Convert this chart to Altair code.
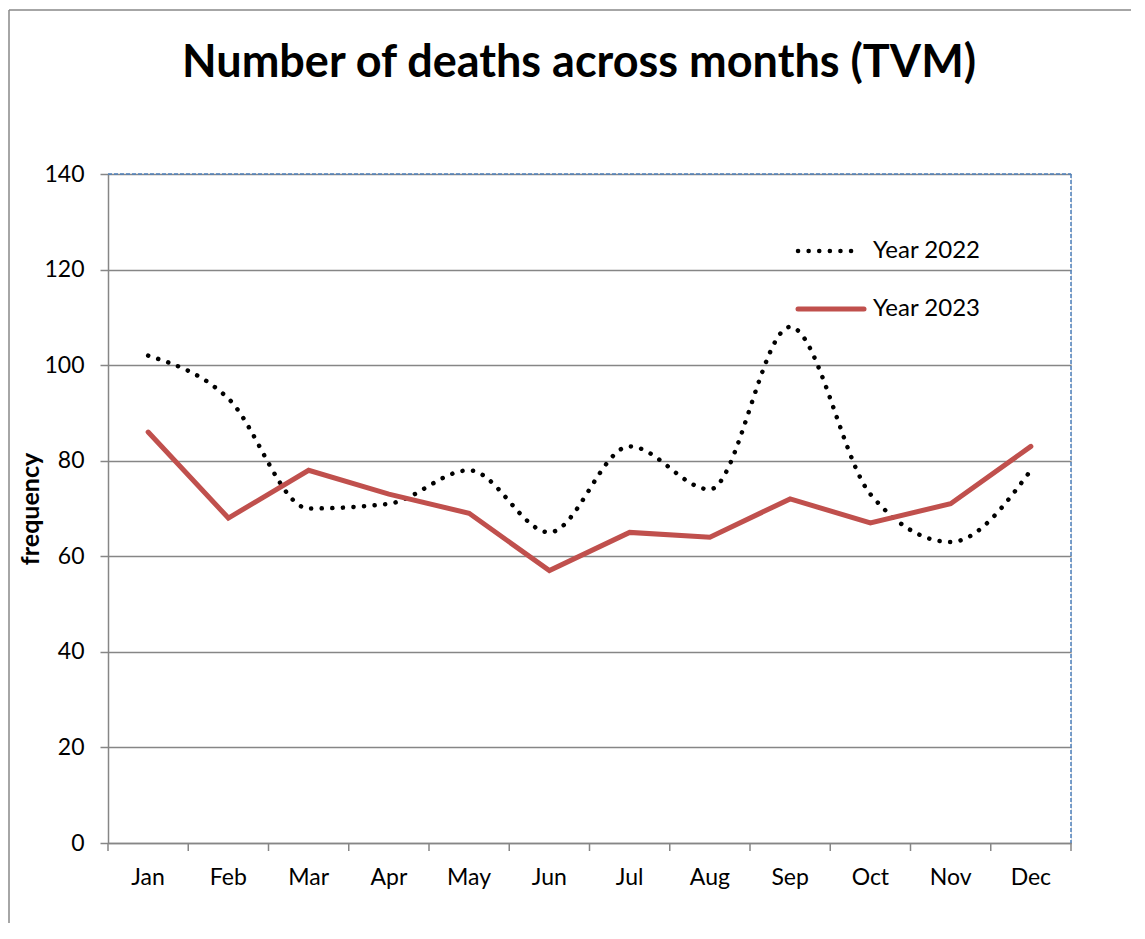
import altair as alt
import pandas as pd

title_text = "Number of deaths across months (TVM)"
months = ["Jan", "Feb", "Mar", "Apr", "May", "Jun", "Jul", "Aug", "Sep", "Oct", "Nov", "Dec"]
y2022 = [102, 93, 70, 71, 78, 65, 83, 74, 108, 73, 63, 78]
y2023 = [86, 68, 78, 73, 69, 57, 65, 64, 72, 67, 71, 83]
series = ["Year 2022", "Year 2023"]
y_ticks = [0, 20, 40, 60, 80, 100, 120, 140]

W, H = 963, 669
FONT = "Lato"
GRAY = "#868686"
RED = "#C0504D"
BLUE = "#4F81BD"

df = pd.DataFrame({"month": months + months,
                   "value": y2022 + y2023,
                   "series": [series[0]] * 12 + [series[1]] * 12})
d22 = df[df.series == series[0]]
d23 = df[df.series == series[1]]
mdf = pd.DataFrame({"month": months})

xscale = alt.Scale(type="band", domain=months, paddingInner=0, paddingOuter=0)
yscale = alt.Scale(domain=[0, 140])

xaxis = alt.Axis(title=None, ticks=False, labelFontSize=23, labelFont=FONT, labelColor="black",
                 labelPadding=23, domainColor=GRAY, domainWidth=1.5, labelAngle=0)
yaxis = alt.Axis(title="frequency", values=y_ticks, grid=True, gridColor=GRAY, gridWidth=1.5,
                 tickColor=GRAY, tickWidth=1.5, tickSize=8, labelFontSize=23, labelFont=FONT,
                 labelColor="black", labelPadding=16, domainColor=GRAY, domainWidth=1.5,
                 titleFont=FONT, titleFontSize=25, titleFontWeight="bold", titleColor="black",
                 titlePadding=0)

line22 = alt.Chart(d22).mark_line(
    color="black", strokeWidth=4.5, strokeDash=[0.1, 10.5], strokeCap="round",
    interpolate="monotone"
).encode(
    x=alt.X("month:N", scale=xscale, axis=xaxis, bandPosition=0.5, sort=months),
    y=alt.Y("value:Q", scale=yscale, axis=yaxis),
)

line23 = alt.Chart(d23).mark_line(
    color=RED, strokeWidth=5, strokeCap="round", strokeJoin="miter"
).encode(
    x=alt.X("month:N", scale=xscale, bandPosition=0.5, sort=months),
    y=alt.Y("value:Q", scale=yscale),
)

ticks = alt.Chart(mdf).mark_rule(color=GRAY, strokeWidth=1.5).encode(
    x=alt.X("month:N", scale=xscale, bandPosition=0, sort=months),
    y=alt.value(H), y2=alt.value(H + 8),
)
last_tick = alt.Chart(mdf.head(1)).mark_rule(color=GRAY, strokeWidth=1.5).encode(
    x=alt.value(W), y=alt.value(H), y2=alt.value(H + 8),
)

# plot-area border (top and right, dashed blue)
top_border = alt.Chart(mdf.head(1)).mark_rule(color=BLUE, strokeWidth=1.5, strokeDash=[4, 2]).encode(
    x=alt.value(0), x2=alt.value(W), y=alt.value(0))
right_border = alt.Chart(mdf.head(1)).mark_rule(color=BLUE, strokeWidth=1.5, strokeDash=[4, 2]).encode(
    x=alt.value(W), y=alt.value(0), y2=alt.value(H))

# legend (drawn inside plot)
leg = pd.DataFrame({"series": series})
leg1 = alt.Chart(leg.head(1)).mark_rule(color="black", strokeWidth=4.5, strokeDash=[0.1, 10.5],
                                         strokeCap="round").encode(
    x=alt.value(690), x2=alt.value(752), y=alt.value(77))
leg2 = alt.Chart(leg.tail(1)).mark_rule(color=RED, strokeWidth=5, strokeCap="round").encode(
    x=alt.value(690), x2=alt.value(756), y=alt.value(135))
legt1 = alt.Chart(leg.head(1)).mark_text(align="left", baseline="middle", font=FONT, fontSize=24,
                                          color="black").encode(
    x=alt.value(765), y=alt.value(77), text="series:N")
legt2 = alt.Chart(leg.tail(1)).mark_text(align="left", baseline="middle", font=FONT, fontSize=24,
                                          color="black").encode(
    x=alt.value(765), y=alt.value(135), text="series:N")

# chart title
tdf = pd.DataFrame({"t": [title_text]})
title = alt.Chart(tdf).mark_text(align="center", baseline="alphabetic", font=FONT, fontSize=45,
                                 fontWeight="bold", color="black").encode(
    x=alt.value(471), y=alt.value(-97), text="t:N")

# outer chart frame
frame_v = alt.Chart(mdf.head(1)).mark_rule(color="#898989", strokeWidth=1.5).encode(
    x=alt.value(-99), y=alt.value(-164), y2=alt.value(H + 200))
frame_h = alt.Chart(mdf.head(1)).mark_rule(color="#898989", strokeWidth=1.5).encode(
    x=alt.value(-99), x2=alt.value(W + 200), y=alt.value(-164))

chart = alt.layer(
    line22, line23, ticks, last_tick, top_border, right_border,
    leg1, leg2, legt1, legt2, title, frame_v, frame_h
).properties(
    width=W, height=H,
    autosize=alt.AutoSizeParams(type="none"),
    padding={"left": 100, "top": 166, "right": 60, "bottom": 80},
).configure_view(
    stroke=None
).configure(background="white")

chart.save("out.html", embed_options={"renderer": "svg", "actions": False})
